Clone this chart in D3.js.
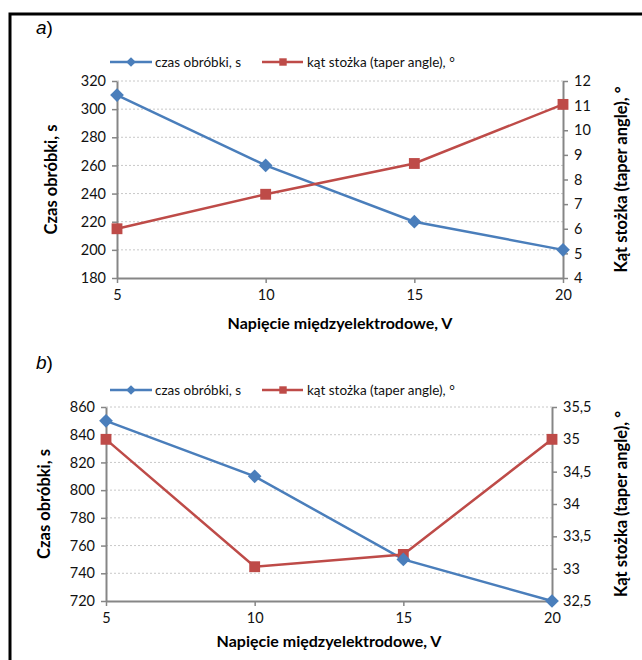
<!DOCTYPE html>
<html>
<head>
<meta charset="utf-8">
<script src="https://cdn.jsdelivr.net/npm/d3@7"></script>
<style>
  body { margin: 0; background: #fff; }
  svg { display: block; }
</style>
</head>
<body>
<svg id="chart" width="642" height="660"></svg>
<script>
// ============ data ============
var voltages = [5, 10, 15, 20];
var timeA = [310, 260, 220, 200];
var angleA = [6.0, 7.4, 8.65, 11.05];
var timeB = [850, 810, 750, 720];
var angleB = [35.0, 33.03, 33.22, 35.0];

var voltageTicks = [5, 10, 15, 20];
var timeTicksA = [180, 200, 220, 240, 260, 280, 300, 320];
var angleTicksA = [4, 5, 6, 7, 8, 9, 10, 11, 12];
var timeTicksB = [720, 740, 760, 780, 800, 820, 840, 860];
var angleTicksB = [32.5, 33, 33.5, 34, 34.5, 35, 35.5];

var seriesNames = ["czas obróbki, s", "kąt stożka (taper angle), °"];
var xTitle = "Napięcie międzyelektrodowe, V";
var leftTitle = "Czas obróbki, s";
var rightTitle = "Kąt stożka (taper angle), °";
//====================================================

var blue = "#4A7EBB";
var red = "#BE4B48";
var axisGrey = "#868686";
var font = "Lato, 'Open Sans', sans-serif";

var svg = d3.select("#chart");

// frame (only top and left edge are visible)
svg.append("path")
  .attr("d", "M10,660 L10,14 L642,14")
  .attr("fill", "none")
  .attr("stroke", "#000")
  .attr("stroke-width", 3);

drawPanel({
  letter: "a", letterX: 36, letterY: 34,
  legendY: 62,
  left: 117, right: 563, top: 81, bottom: 278,
  time: timeA, angle: angleA,
  timeTicks: timeTicksA, angleTicks: angleTicksA,
  xTitleY: 329, leftTitleX: 57, rightTitleX: 627
});

drawPanel({
  letter: "b", letterX: 36, letterY: 369,
  legendY: 390,
  left: 106, right: 552, top: 407, bottom: 601,
  time: timeB, angle: angleB,
  timeTicks: timeTicksB, angleTicks: angleTicksB,
  xTitleY: 647, leftTitleX: 50, rightTitleX: 627
});

function drawPanel(p) {
  var g = svg.append("g");

  var x = d3.scaleLinear().domain(d3.extent(voltageTicks)).range([p.left, p.right]);
  var yL = d3.scaleLinear().domain(d3.extent(p.timeTicks)).range([p.bottom, p.top]);
  var yR = d3.scaleLinear().domain(d3.extent(p.angleTicks)).range([p.bottom, p.top]);
  var fmt = function(d) { return String(d).replace(".", ","); };

  // dotted grid lines
  g.append("g")
    .selectAll("line")
    .data(p.timeTicks.slice(1))
    .join("line")
    .attr("x1", p.left).attr("x2", p.right)
    .attr("y1", d => yL(d)).attr("y2", d => yL(d))
    .attr("stroke", "#c8c8c8")
    .attr("stroke-width", 1)
    .attr("stroke-dasharray", "2,2");

  // axes
  var styleAxis = function(sel) {
    sel.select(".domain").attr("stroke", axisGrey).attr("stroke-width", 2);
    sel.selectAll(".tick line").attr("stroke", axisGrey).attr("stroke-width", 1.5);
    sel.selectAll(".tick text").attr("fill", "#111").style("font-family", font).style("font-size", "14.5px");
  };

  g.append("g")
    .attr("transform", `translate(0,${p.bottom})`)
    .call(d3.axisBottom(x).tickValues(voltageTicks).tickSize(5).tickSizeOuter(0).tickPadding(7))
    .call(styleAxis);

  g.append("g")
    .attr("transform", `translate(${p.left},0)`)
    .call(d3.axisLeft(yL).tickValues(p.timeTicks).tickSize(5).tickSizeOuter(0).tickPadding(6))
    .call(styleAxis);

  g.append("g")
    .attr("transform", `translate(${p.right},0)`)
    .call(d3.axisRight(yR).tickValues(p.angleTicks).tickFormat(fmt).tickSize(5).tickSizeOuter(0).tickPadding(6))
    .call(styleAxis);

  // lines
  var timeLine = d3.line().x((d, i) => x(voltages[i])).y(d => yL(d));
  var angleLine = d3.line().x((d, i) => x(voltages[i])).y(d => yR(d));

  g.append("path").datum(p.time)
    .attr("d", timeLine).attr("fill", "none")
    .attr("stroke", blue).attr("stroke-width", 2.5);

  g.append("path").datum(p.angle)
    .attr("d", angleLine).attr("fill", "none")
    .attr("stroke", red).attr("stroke-width", 2.5);

  var diamond = d3.symbol().type(d3.symbolDiamond2).size(120);
  var square = d3.symbol().type(d3.symbolSquare2).size(150);

  g.append("g").selectAll("path")
    .data(p.angle)
    .join("path")
    .attr("transform", (d, i) => `translate(${x(voltages[i])},${yR(d)})`)
    .attr("d", square)
    .attr("fill", red);

  g.append("g").selectAll("path")
    .data(p.time)
    .join("path")
    .attr("transform", (d, i) => `translate(${x(voltages[i])},${yL(d)})`)
    .attr("d", diamond)
    .attr("fill", blue);

  // legend
  var leg = g.append("g").attr("transform", `translate(0,${p.legendY})`);
  leg.append("line").attr("x1", 110).attr("x2", 152).attr("stroke", blue).attr("stroke-width", 2.5);
  leg.append("path").attr("transform", "translate(131,0)").attr("d", d3.symbol().type(d3.symbolDiamond2).size(60)).attr("fill", blue);
  leg.append("text").attr("x", 155).attr("y", 5)
    .style("font-family", font).style("font-size", "13.5px").attr("fill", "#111")
    .text(seriesNames[0]);
  leg.append("line").attr("x1", 262).attr("x2", 303).attr("stroke", red).attr("stroke-width", 2.5);
  leg.append("path").attr("transform", "translate(283,0)").attr("d", d3.symbol().type(d3.symbolSquare2).size(70)).attr("fill", red);
  leg.append("text").attr("x", 307).attr("y", 5)
    .style("font-family", font).style("font-size", "13.5px").attr("fill", "#111")
    .text(seriesNames[1]);

  // panel letter
  var lt = g.append("text").attr("x", p.letterX).attr("y", p.letterY)
    .style("font-family", "'Liberation Sans', Arial, sans-serif").style("font-size", "19px").attr("fill", "#000");
  lt.append("tspan").style("font-style", "italic").text(p.letter);
  lt.append("tspan").text(")");

  // titles
  g.append("text")
    .attr("x", (p.left + p.right) / 2).attr("y", p.xTitleY)
    .attr("text-anchor", "middle")
    .style("font-family", font).style("font-size", "16px").style("font-weight", "bold")
    .text(xTitle);

  g.append("text")
    .attr("transform", `translate(${p.leftTitleX},${(p.top + p.bottom) / 2}) rotate(-90)`)
    .attr("text-anchor", "middle")
    .style("font-family", font).style("font-size", "16.5px").style("font-weight", "bold")
    .text(leftTitle);

  g.append("text")
    .attr("transform", `translate(${p.rightTitleX},${(p.top + p.bottom) / 2}) rotate(-90)`)
    .attr("text-anchor", "middle")
    .style("font-family", font).style("font-size", "16.5px").style("font-weight", "bold")
    .text(rightTitle);
}
</script>
</body>
</html>
